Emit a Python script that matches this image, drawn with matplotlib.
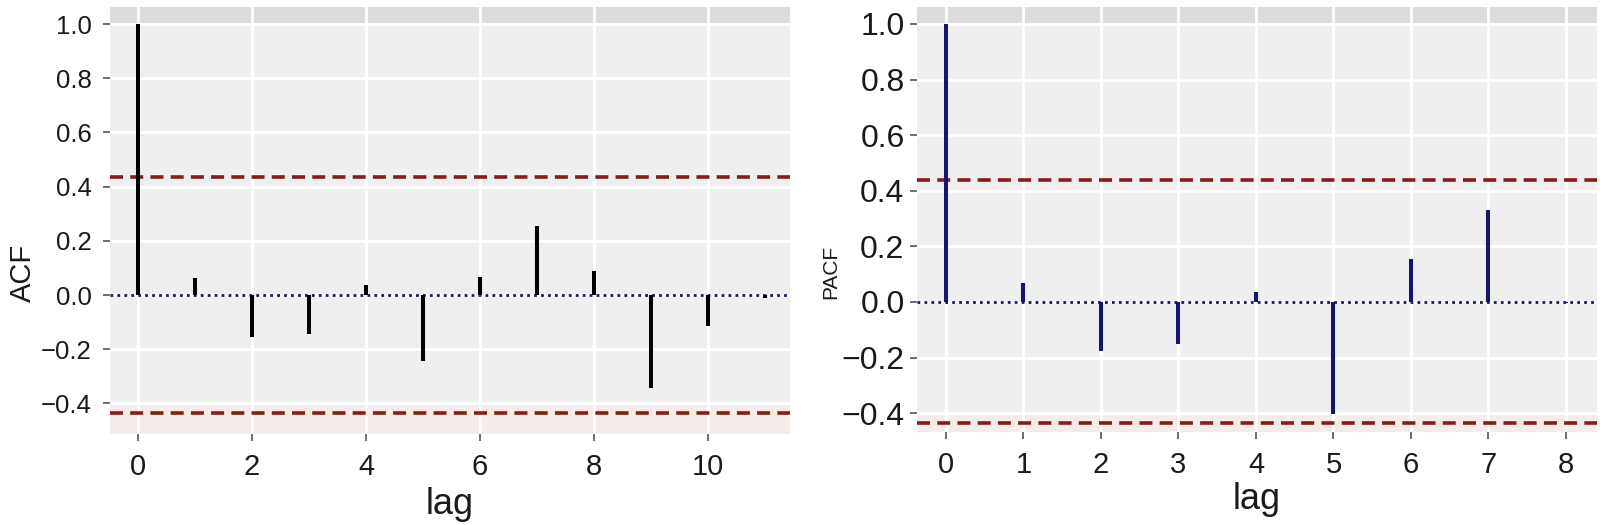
import matplotlib
matplotlib.use("Agg")
import matplotlib.pyplot as plt
import numpy as np

# ---- data ----
acf_lags = [0, 1, 2, 3, 4, 5, 6, 7, 8, 9, 10, 11]
acf_vals = [1.0, 0.063, -0.155, -0.145, 0.037, -0.243, 0.066, 0.255, 0.089, -0.343, -0.114, -0.01]
pacf_lags = [0, 1, 2, 3, 4, 5, 6, 7, 8]
pacf_vals = [1.0, 0.068, -0.175, -0.151, 0.036, -0.403, 0.155, 0.331, -0.005]
conf_bound = 0.437
acf_xticks = [0, 2, 4, 6, 8, 10]
pacf_xticks = [0, 1, 2, 3, 4, 5, 6, 7, 8]
yticks = [-0.4, -0.2, 0.0, 0.2, 0.4, 0.6, 0.8, 1.0]

plt.rcParams['font.family'] = ['Liberation Sans', 'DejaVu Sans']

fig = plt.figure(figsize=(16, 5.25), dpi=100)
ax1 = fig.add_axes([110/1600, 1-434/525, 680/1600, 427/525])
ax2 = fig.add_axes([917/1600, 1-432/525, 680/1600, 425/525])


def style(ax, xlim, ylim, xticks, lagcol, lags, vals, ylabel, ysize, tsize_y, tsize_x, lsize, ypad):
    ax.set_facecolor('#efefef')
    ax.set_xlim(*xlim)
    ax.set_ylim(*ylim)
    ax.axhspan(1.0, ylim[1], color='#dcdcdc', zorder=0.5, lw=0)
    ax.axhspan(ylim[0], -0.415, color='#f5ece9', zorder=0.5, lw=0)
    ax.set_xticks(xticks)
    ax.set_yticks(yticks)
    ax.set_yticklabels([f"{v:.1f}".replace('-', '\u2212') for v in yticks])
    ax.grid(True, color='white', lw=2.0, zorder=1)
    ax.set_axisbelow(True)
    for s in ax.spines.values():
        s.set_visible(False)
    ax.tick_params(axis='both', length=5, width=1.2, color='#555555', labelcolor='#1a1a1a')
    ax.tick_params(axis='y', labelsize=tsize_y, pad=ypad)
    ax.tick_params(axis='x', labelsize=tsize_x, pad=9)
    ax.vlines(lags, 0, vals, color=lagcol, lw=2.9, zorder=3)
    ax.axhline(0, color='#1a1a5e', lw=2.0, ls=(0, (1, 1.5)), zorder=2.5)
    for b in (conf_bound, -conf_bound):
        ax.axhline(b, color='#8b1a1a', lw=2.6, ls=(0, (3.6, 2.0)), zorder=2.6)
    ax.set_ylabel(ylabel, fontsize=ysize, color='#1a1a1a')
    ax.set_xlabel('lag', fontsize=lsize, color='#1a1a1a')


style(ax1, (-0.491, 11.44), (-0.513, 1.063), acf_xticks, 'black', acf_lags, acf_vals,
      'ACF', 21, 18.5, 21, 26, 8)
style(ax2, (-0.374, 8.4), (-0.468, 1.061), pacf_xticks, '#14147a', pacf_lags, pacf_vals,
      'PACF', 15, 23, 21, 26, 4)

ax1.yaxis.set_label_coords(-0.108, 0.377)
ax1.xaxis.set_label_coords(0.5, -0.124)
ax2.yaxis.set_label_coords(-0.113, 0.377)
ax2.xaxis.set_label_coords(0.5, -0.117)

fig.savefig('out.png', dpi=100)
